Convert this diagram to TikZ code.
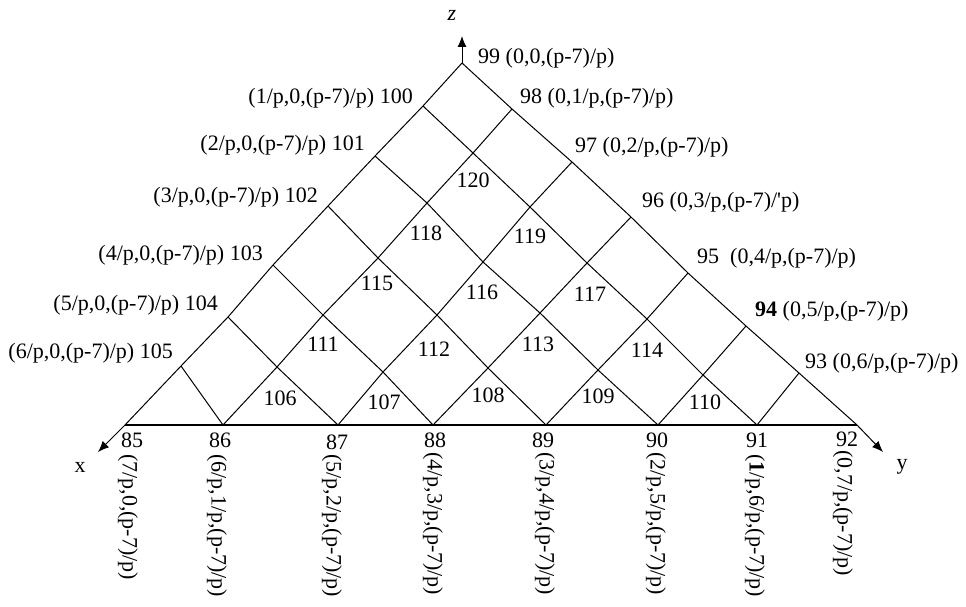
\documentclass[tikz,border=0pt]{standalone}
\usepackage{fontspec}
\setmainfont{Liberation Serif}
\usetikzlibrary{arrows.meta}
\begin{document}
\begin{tikzpicture}[x=1pt,y=-1pt,
  every node/.style={font=\fontsize{22}{25}\selectfont, inner sep=0pt},
  gridline/.style={line width=1pt, line join=round},
  baseline/.style={line width=2.5pt},
  axis/.style={line width=1pt, -{Latex[length=11pt,width=9pt]}},
  rlab/.style={anchor=west},
  llab/.style={anchor=east},
  vlab/.style={rotate=-90, anchor=west}]
\useasboundingbox (0,0) rectangle (966,607);
% grid points g-i-j
\coordinate (g-0-0) at (462,63);
\coordinate (g-1-0) at (423,106);
\coordinate (g-2-0) at (375,156);
\coordinate (g-3-0) at (328,206);
\coordinate (g-4-0) at (273,265);
\coordinate (g-5-0) at (228,317);
\coordinate (g-6-0) at (181,366);
\coordinate (g-7-0) at (125,425);
\coordinate (g-0-1) at (512,109);
\coordinate (g-0-2) at (572,162);
\coordinate (g-0-3) at (631,217);
\coordinate (g-0-4) at (688,273);
\coordinate (g-0-5) at (746,326);
\coordinate (g-0-6) at (799,373);
\coordinate (g-0-7) at (857,425);
\coordinate (g-1-1) at (473,153);
\coordinate (g-2-1) at (427,203);
\coordinate (g-1-2) at (530,207);
\coordinate (g-3-1) at (378,258);
\coordinate (g-2-2) at (483,262);
\coordinate (g-1-3) at (587,263);
\coordinate (g-4-1) at (323,315);
\coordinate (g-3-2) at (437,315);
\coordinate (g-2-3) at (540,313);
\coordinate (g-1-4) at (647,319);
\coordinate (g-5-1) at (277,367);
\coordinate (g-4-2) at (383,372);
\coordinate (g-3-3) at (488,368);
\coordinate (g-2-4) at (598,370);
\coordinate (g-1-5) at (703,375);
\coordinate (g-6-1) at (223,425);
\coordinate (g-5-2) at (338,425);
\coordinate (g-4-3) at (433,425);
\coordinate (g-3-4) at (546,425);
\coordinate (g-2-5) at (658,425);
\coordinate (g-1-6) at (757,425);
% axis tips
\coordinate (xtip) at (98,452);
\coordinate (ytip) at (883,452);
\coordinate (ztip) at (462,36);
% triangle sides
\draw[gridline] (g-0-0) -- (g-1-0) -- (g-2-0) -- (g-3-0) -- (g-4-0) -- (g-5-0) -- (g-6-0) -- (g-7-0);
\draw[gridline] (g-0-0) -- (g-0-1) -- (g-0-2) -- (g-0-3) -- (g-0-4) -- (g-0-5) -- (g-0-6) -- (g-0-7);
% down-right lines
\draw[gridline] (g-1-0) -- (g-1-1) -- (g-1-2) -- (g-1-3) -- (g-1-4) -- (g-1-5) -- (g-1-6);
\draw[gridline] (g-2-0) -- (g-2-1) -- (g-2-2) -- (g-2-3) -- (g-2-4) -- (g-2-5);
\draw[gridline] (g-3-0) -- (g-3-1) -- (g-3-2) -- (g-3-3) -- (g-3-4);
\draw[gridline] (g-4-0) -- (g-4-1) -- (g-4-2) -- (g-4-3);
\draw[gridline] (g-5-0) -- (g-5-1) -- (g-5-2);
\draw[gridline] (g-6-0) -- (g-6-1);
% down-left lines
\draw[gridline] (g-0-1) -- (g-1-1) -- (g-2-1) -- (g-3-1) -- (g-4-1) -- (g-5-1) -- (g-6-1);
\draw[gridline] (g-0-2) -- (g-1-2) -- (g-2-2) -- (g-3-2) -- (g-4-2) -- (g-5-2);
\draw[gridline] (g-0-3) -- (g-1-3) -- (g-2-3) -- (g-3-3) -- (g-4-3);
\draw[gridline] (g-0-4) -- (g-1-4) -- (g-2-4) -- (g-3-4);
\draw[gridline] (g-0-5) -- (g-1-5) -- (g-2-5);
\draw[gridline] (g-0-6) -- (g-1-6);
% base
\draw[baseline] (g-7-0) -- (g-0-7);
% axes
\draw[axis] (g-7-0) -- (xtip);
\draw[axis] (g-0-7) -- (ytip);
\draw[axis] (g-0-0) -- (ztip);
\node (xl) at (80,467) {x};
\node (yl) at (902,467) {y};
\node (zl) at (452,15) {\itshape z};
% right side labels
\node[rlab] (l99) at (478,58) {99 (0,0,(p-7)/p)};
\node[rlab] (l98) at (520,98) {98 (0,1/p,(p-7)/p)};
\node[rlab] (l97) at (575,147) {97 (0,2/p,(p-7)/p)};
\node[rlab] (l96) at (642,202) {96 (0,3/p,(p-7)/\textquotesingle p)};
\node[rlab] (l95) at (697,258) {95\ \ (0,4/p,(p-7)/p)};
\node[rlab] (l94) at (755,311) {\textbf{94} (0,5/p,(p-7)/p)};
\node[rlab] (l93) at (805,363) {93 (0,6/p,(p-7)/p)};
% left side labels
\node[llab] (l100) at (413,98) {(1/p,0,(p-7)/p) 100};
\node[llab] (l101) at (365,145) {(2/p,0,(p-7)/p) 101};
\node[llab] (l102) at (318,197) {(3/p,0,(p-7)/p) 102};
\node[llab] (l103) at (263,255) {(4/p,0,(p-7)/p) 103};
\node[llab] (l104) at (218,305) {(5/p,0,(p-7)/p) 104};
\node[llab] (l105) at (173,353) {(6/p,0,(p-7)/p) 105};
% interior labels
\node (l120) at (473,180) {120};
\node (l118) at (426,233) {118};
\node (l119) at (530,236) {119};
\node (l115) at (377,283) {115};
\node (l116) at (482,292) {116};
\node (l117) at (590,294) {117};
\node (l111) at (323,344) {111};
\node (l112) at (434,349) {112};
\node (l113) at (538,344) {113};
\node (l114) at (647,350) {114};
\node (l106) at (280,398) {106};
\node (l107) at (384,402) {107};
\node (l108) at (488,395) {108};
\node (l109) at (598,396) {109};
\node (l110) at (705,402) {110};
% base numbers
\node (l85) at (132,440) {85};
\node (l86) at (220,440) {86};
\node (l87) at (337,442) {87};
\node (l88) at (435,440) {88};
\node (l89) at (543,440) {89};
\node (l90) at (657,440) {90};
\node (l91) at (757,440) {91};
\node (l92) at (847,439) {92};
% base coordinate labels
\node[vlab] (c85) at (128,454) {(7/p,0,(p-7)/p)};
\node[vlab] (c86) at (217,454) {(6/p,1/p,(p-7)/p)};
\node[vlab] (c87) at (332,454) {(5/p,2/p,(p-7)/p)};
\node[vlab] (c88) at (433,452) {(4/p,3/p,(p-7)/p)};
\node[vlab] (c89) at (545,452) {(3/p,4/p,(p-7)/p)};
\node[vlab] (c90) at (656,452) {(2/p,5/p,(p-7)/p)};
\node[vlab] (c91) at (755,454) {(\textbf{1}/p,6/p,(p-7)/p)};
\node[vlab] (c92) at (843,450) {(0,7/p,(p-7)/p)};
\end{tikzpicture}
\end{document}
